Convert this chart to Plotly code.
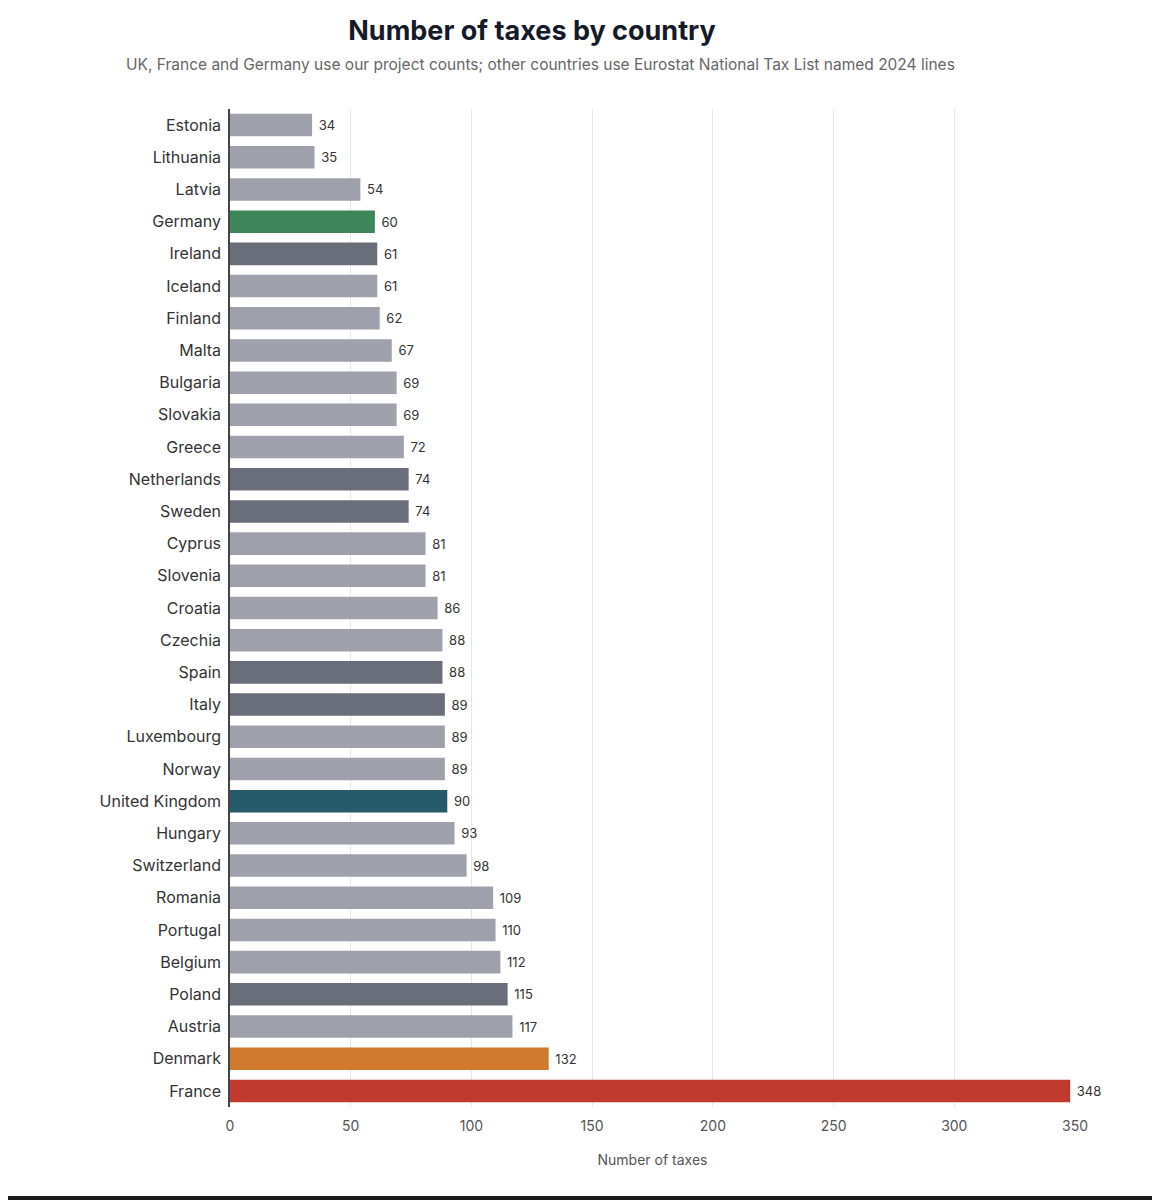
import plotly.graph_objects as go

# Daten (von oben nach unten)
countries = [
    "Estonia", "Lithuania", "Latvia", "Germany", "Ireland", "Iceland", "Finland",
    "Malta", "Bulgaria", "Slovakia", "Greece", "Netherlands", "Sweden", "Cyprus",
    "Slovenia", "Croatia", "Czechia", "Spain", "Italy", "Luxembourg", "Norway",
    "United Kingdom", "Hungary", "Switzerland", "Romania", "Portugal", "Belgium",
    "Poland", "Austria", "Denmark", "France",
]
tax_counts = [
    34, 35, 54, 60, 61, 61, 62, 67, 69, 69, 72, 74, 74, 81, 81, 86, 88, 88, 89,
    89, 89, 90, 93, 98, 109, 110, 112, 115, 117, 132, 348,
]
x_ticks = [0, 50, 100, 150, 200, 250, 300, 350]

LIGHT = "#9ea1ac"
DARK = "#6a6e7a"
special_colors = {
    "Germany": "#3e8559",
    "United Kingdom": "#255a6a",
    "Denmark": "#cf7a2d",
    "France": "#c0392f",
}
dark_countries = ["Ireland", "Netherlands", "Sweden", "Spain", "Italy", "Poland"]

colors = []
for c in countries:
    if c in special_colors:
        colors.append(special_colors[c])
    elif c in dark_countries:
        colors.append(DARK)
    else:
        colors.append(LIGHT)

FONT = "Inter, Lato, sans-serif"
W, H = 1160, 1200
OFF = 8  # Seitenrand des Browsers
M_L, M_R, M_T, M_B = 230 - OFF, 85 + OFF, 109 - OFF, 93 + OFF
PLOT_H = H - M_T - M_B


def paper_y(px_from_top):
    # Bildschirm-Pixel von oben -> Paper-Koordinate
    return (H - M_B - (px_from_top - OFF)) / PLOT_H


fig = go.Figure(
    go.Bar(
        x=tax_counts,
        y=countries,
        orientation="h",
        marker=dict(color=colors, line=dict(width=0)),
        texttemplate=" %{x}",
        textposition="outside",
        textfont=dict(size=13, color="#333333", family=FONT),
        cliponaxis=False,
    )
)

fig.update_layout(
    width=W,
    height=H,
    paper_bgcolor="white",
    plot_bgcolor="white",
    margin=dict(l=M_L, r=M_R, t=M_T, b=M_B, autoexpand=False),
    bargap=0.3,
    showlegend=False,
    font=dict(family=FONT, color="#333333"),
    title=dict(
        text="<b>Number of taxes by country</b>",
        x=(532 - OFF) / W, xref="container", xanchor="center",
        y=1 - (31 - OFF) / H, yref="container", yanchor="middle",
        font=dict(size=27, color="#151a28", family=FONT),
    ),
    annotations=[
        dict(
            text="UK, France and Germany use our project counts; other countries use Eurostat National Tax List named 2024 lines",
            x=(540 - M_L - OFF) / (W - M_L - M_R), xref="paper", xanchor="center",
            y=paper_y(65), yref="paper", yanchor="middle",
            showarrow=False,
            font=dict(size=15.5, color="#666666", family=FONT),
        )
    ],
    shapes=[
        dict(
            type="rect", xref="paper", yref="paper",
            x0=-0.3, x1=1.12, y0=paper_y(1208), y1=paper_y(1196),
            line=dict(width=0), fillcolor="#1a1a1a", layer="above",
        )
    ],
)

fig.update_xaxes(
    range=[0, 350],
    tickvals=x_ticks,
    showgrid=True,
    gridcolor="#e6e6e6",
    gridwidth=1,
    zeroline=False,
    showline=False,
    ticks="",
    ticklabelstandoff=9,
    tickfont=dict(size=14, color="#555555"),
    title=dict(text="Number of taxes", font=dict(size=14, color="#555555"), standoff=22),
)
fig.update_yaxes(
    autorange="reversed",
    showline=True,
    linecolor="#444444",
    linewidth=1.5,
    showgrid=False,
    ticks="",
    ticklabelstandoff=4,
    tickfont=dict(size=16, color="#333333"),
)

fig.write_html("out.html")
